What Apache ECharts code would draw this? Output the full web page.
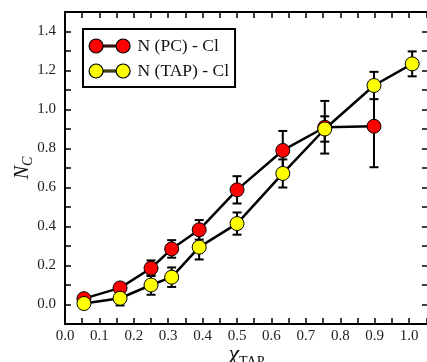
<!DOCTYPE html>
<html>
<head>
<meta charset="utf-8">
<script src="https://cdn.jsdelivr.net/npm/echarts@6/dist/echarts.min.js"></script>
<style>
  html, body { margin: 0; padding: 0; background: #fff; }
  #chart { width: 427px; height: 362px; }
</style>
</head>
<body>
<div id="chart"></div>
<script>
// x positions (chi_TAP)
const xPC = [0.055, 0.16, 0.25, 0.31, 0.39, 0.5, 0.633, 0.755, 0.898];
const yPC = [0.03, 0.085, 0.186, 0.285, 0.383, 0.588, 0.79, 0.909, 0.914];
const ePC = [0.01, 0.02, 0.04, 0.045, 0.05, 0.07, 0.1, 0.135, 0.21];

const xTAP = [0.055, 0.16, 0.25, 0.31, 0.39, 0.5, 0.633, 0.755, 0.898, 1.009];
const yTAP = [0.005, 0.032, 0.1, 0.14, 0.294, 0.415, 0.672, 0.9, 1.123, 1.234];
const eTAP = [0.01, 0.037, 0.05, 0.05, 0.063, 0.057, 0.072, 0.065, 0.07, 0.064];

const names = ['N (PC) - Cl', 'N (TAP) - Cl'];
const colors = ['#ff0000', '#ffff00'];

const font = '"Liberation Serif", "DejaVu Serif", serif';

const myChart = echarts.init(document.getElementById('chart'));

function pts(xs, ys) { return xs.map((x, i) => [x, ys[i]]); }
function errs(xs, ys, es) { return xs.map((x, i) => [x, ys[i] - es[i], ys[i] + es[i]]); }

function errorBar(params, api) {
  const x = api.value(0);
  const lo = api.coord([x, api.value(1)]);
  const hi = api.coord([x, api.value(2)]);
  const w = 4.5;
  const style = { stroke: '#000', lineWidth: 2 };
  return {
    type: 'group',
    children: [
      { type: 'line', shape: { x1: lo[0], y1: lo[1], x2: hi[0], y2: hi[1] }, style },
      { type: 'line', shape: { x1: lo[0] - w, y1: lo[1], x2: lo[0] + w, y2: lo[1] }, style },
      { type: 'line', shape: { x1: hi[0] - w, y1: hi[1], x2: hi[0] + w, y2: hi[1] }, style }
    ]
  };
}

// two circles joined by a short bar
const legendIcon = 'path://M0,7a7,7 0 1,0 14,0a7,7 0 1,0 -14,0Z M27,7a7,7 0 1,0 14,0a7,7 0 1,0 -14,0Z M14,6.2h13v1.6h-13Z';

const axisCommon = {
  axisLine: { show: true, onZero: false, lineStyle: { color: '#000', width: 2 } },
  axisTick: { show: true, inside: true, length: 6, lineStyle: { color: '#000', width: 1.5 } },
  splitLine: { show: false }
};

const xLabel = (v) => (Math.round(v * 1000) % 100 === 0 ? v.toFixed(1) : '');
const yLabel = (v) => (Math.round(v * 10) % 2 === 0 ? v.toFixed(1) : '');

myChart.setOption({
  animation: false,
  backgroundColor: '#fff',
  grid: { left: 65, top: 12, right: -1, bottom: 38, outerBoundsMode: 'none', containLabel: false },
  legend: {
    left: 83,
    top: 29,
    orient: 'vertical',
    padding: [8, 6, 7, 5.5],
    itemGap: 7,
    itemWidth: 46,
    itemHeight: 14,
    borderColor: '#000',
    borderWidth: 2,
    borderRadius: 0,
    textStyle: { fontFamily: font, fontSize: 17.5, color: '#111' },
    data: names.map((n, i) => ({
      name: n,
      icon: legendIcon,
      itemStyle: { color: colors[i], borderColor: '#000', borderWidth: 1.2 }
    }))
  },
  xAxis: [
    Object.assign({}, axisCommon, {
      type: 'value', min: 0, max: 1.055, interval: 0.05, position: 'bottom',
      axisLabel: { formatter: xLabel, fontFamily: font, fontSize: 15, color: '#222', margin: 5, showMaxLabel: false },
      name: '{c|χ}{s|TAP}',
      nameLocation: 'middle',
      nameGap: 17,
      nameMoveOverlap: false,
      nameTextStyle: {
        rich: {
          c: { fontFamily: font, fontSize: 24, fontStyle: 'italic', color: '#111' },
          s: { fontFamily: font, fontSize: 14, color: '#111', padding: [14, 0, 0, 0] }
        }
      }
    }),
    Object.assign({}, axisCommon, {
      type: 'value', min: 0, max: 1.055, interval: 0.05, position: 'top',
      axisLabel: { show: false }
    })
  ],
  yAxis: [
    Object.assign({}, axisCommon, {
      type: 'value', min: -0.1, max: 1.5, interval: 0.1, position: 'left',
      axisLabel: { formatter: yLabel, fontFamily: font, fontSize: 15, color: '#222', margin: 9 },
      name: '{n|N}{s|C}',
      nameLocation: 'middle',
      nameGap: 30,
      nameRotate: 90,
      nameMoveOverlap: false,
      nameTextStyle: {
        rich: {
          n: { fontFamily: font, fontSize: 20, fontStyle: 'italic', color: '#111' },
          s: { fontFamily: font, fontSize: 14, fontStyle: 'italic', color: '#111', padding: [10, 0, 0, 0] }
        }
      }
    }),
    Object.assign({}, axisCommon, {
      type: 'value', min: -0.1, max: 1.5, interval: 0.1, position: 'right',
      axisLabel: { show: false }
    })
  ],
  series: [
    {
      type: 'custom', name: 'errPC', renderItem: errorBar, z: 1,
      data: errs(xPC, yPC, ePC)
    },
    {
      type: 'custom', name: 'errTAP', renderItem: errorBar, z: 1,
      data: errs(xTAP, yTAP, eTAP)
    },
    {
      type: 'line', name: names[0], z: 3,
      data: pts(xPC, yPC),
      symbol: 'circle', symbolSize: 14,
      lineStyle: { color: '#000', width: 2.5 },
      itemStyle: { color: colors[0], borderColor: '#000', borderWidth: 1 }
    },
    {
      type: 'line', name: names[1], z: 4,
      data: pts(xTAP, yTAP),
      symbol: 'circle', symbolSize: 14,
      lineStyle: { color: '#000', width: 2.5 },
      itemStyle: { color: colors[1], borderColor: '#000', borderWidth: 1 }
    }
  ]
});
window.onresize = () => myChart.resize();
</script>
</body>
</html>
